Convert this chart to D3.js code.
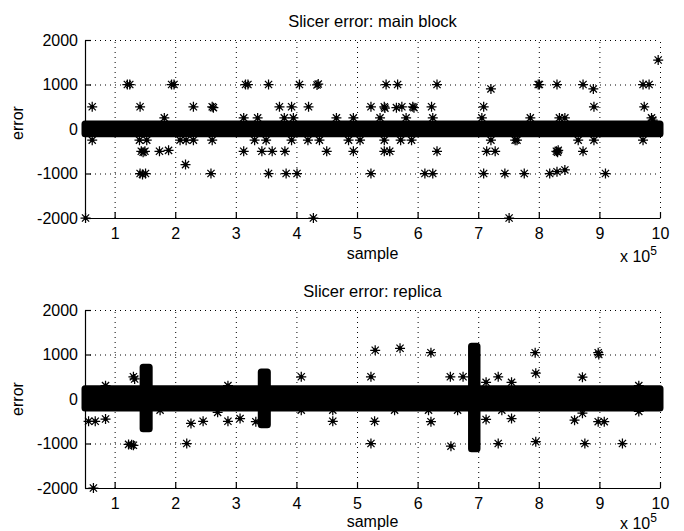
<!DOCTYPE html>
<html><head><meta charset="utf-8">
<script src="https://cdn.jsdelivr.net/npm/d3@7"></script>
<style>
html,body{margin:0;padding:0;background:#fff;}
text{font-family:"Liberation Sans",Arial,Helvetica,sans-serif;fill:#000;}
</style></head>
<body><svg id="c" width="684" height="531"></svg>
<script>
// ---------- data (x in units of 1e5 samples, y = error) ----------
const xTicks = [1,2,3,4,5,6,7,8,9,10];
const yTicks = [-2000,-1000,0,1000,2000];
const xDomain = [0.511, 10];
const yDomain = [-2000, 2000];

// dense band envelope (inner edge), main block
const mainBandX  = [0.511, 10];
const mainBandHi = [110, 110];
const mainBandLo = [-105, -105];

// dense band envelope, replica (with the three bursts)
const repBandX  = [0.511, 1.47, 1.47, 1.57, 1.57, 3.42, 3.42, 3.52, 3.52, 6.89, 6.89, 6.98, 6.98, 10];
const repBandHi = [230, 230, 714, 714, 230, 230, 608, 608, 230, 230, 1187, 1187, 230, 230];
const repBandLo = [-200, -200, -669, -669, -200, -200, -579, -579, -200, -200, -1119, -1119, -200, -200];

// isolated outliers, main block
const mainOutX = [0.63,0.63,0.52,1.21,1.25,1.94,1.98,1.42,2.30,2.61,2.63,1.82,
  1.41,1.53,1.44,1.50,1.47,1.74,1.89,2.08,2.18,2.30,2.17,2.61,1.42,1.51,1.46,2.59,
  3.16,3.20,3.54,4.05,4.34,4.36,3.72,3.92,4.20,5.23,3.13,3.36,3.80,3.95,4.66,4.94,
  3.31,3.50,3.92,4.19,4.38,4.86,5.05,3.13,3.43,3.60,3.81,4.50,4.94,3.54,3.83,4.01,5.23,4.28,
  5.48,5.67,6.32,7.21,5.45,5.46,5.65,5.74,5.92,5.94,6.23,7.09,5.38,5.81,6.25,7.06,
  5.45,5.72,5.90,7.21,7.61,5.45,5.54,6.32,7.14,7.28,6.12,6.25,7.09,7.44,7.51,
  9.97,7.99,8.01,8.30,8.73,8.90,9.72,9.82,8.91,9.74,7.86,8.34,8.43,9.86,9.88,
  7.64,8.65,8.91,9.72,8.29,8.31,8.32,8.73,7.76,8.18,8.30,8.43,9.10];
const mainOutY = [500,-250,-2000,1000,1000,1000,1000,500,500,500,480,250,
  -250,-250,-500,-500,-520,-500,-480,-250,-250,-250,-800,-250,-1000,-1000,-1020,-1000,
  1000,1000,1000,1000,990,1010,500,500,500,500,250,250,250,250,250,250,
  -250,-250,-250,-250,-250,-250,-250,-500,-500,-500,-500,-500,-500,-1000,-1000,-1000,-1000,-2000,
  1000,1000,1000,900,500,470,480,500,500,480,500,500,250,250,250,250,
  -250,-250,-250,-250,-250,-500,-500,-500,-500,-500,-1000,-1000,-1000,-1000,-2000,
  1550,1000,1000,1000,1000,900,1000,1000,500,500,250,250,250,250,200,
  -250,-250,-250,-250,-500,-520,-480,-500,-1000,-1000,-960,-920,-1000];

// isolated outliers, replica
const repOutX = [1.31,1.33,0.85,0.57,0.68,0.85,1.23,1.31,1.28,2.19,1.75,2.26,2.46,2.70,2.87,2.87,0.65,
  3.07,3.33,4.08,4.08,4.60,4.60,5.23,5.30,5.23,5.29,
  5.71,6.22,6.54,6.75,7.13,7.33,7.55,5.62,6.18,6.22,6.66,7.13,7.55,7.39,6.55,7.33,
  7.94,8.98,8.99,7.95,8.72,9.65,8.72,8.59,8.98,9.08,7.95,8.76,9.38,9.65];
const repOutY = [500,450,300,-500,-500,-450,-1020,-1040,-1030,-1000,-250,-550,-500,-300,-500,300,-2000,
  -440,-510,500,-250,-250,-500,500,1095,-1000,-500,
  1140,1040,500,500,375,500,375,-250,-250,-510,-250,-460,-440,-250,-1060,-1000,
  1040,1040,1000,580,490,300,-320,-475,-510,-510,-960,-1000,-1000,-280];

const panels = [
  {title:"Slicer error: main block", top:40, bandX:mainBandX, hi:mainBandHi, lo:mainBandLo, ox:mainOutX, oy:mainOutY, ylabY:123, sampleY:259, expY:262},
  {title:"Slicer error: replica", top:310, bandX:repBandX, hi:repBandHi, lo:repBandLo, ox:repOutX, oy:repOutY, ylabY:399, sampleY:527, expY:529}
];

// ---------- drawing ----------
const svg = d3.select("#c");
const L = 85, R = 660, H = 178;
const starPath = "M-5,0H5M0,-5V5M-3.6,-3.6L3.6,3.6M-3.6,3.6L3.6,-3.6";

panels.forEach(p => {
  const x = d3.scaleLinear().domain(xDomain).range([L, R]);
  const y = d3.scaleLinear().domain(yDomain).range([p.top + H, p.top]);
  const g = svg.append("g");

  // grid (dotted)
  const grid = g.append("g").attr("stroke", "#000").attr("stroke-width", 1)
    .attr("stroke-dasharray", "1,4").attr("fill", "none");
  xTicks.forEach(t => grid.append("line").attr("x1", x(t)+0.5).attr("x2", x(t)+0.5)
    .attr("y1", y(yDomain[0])).attr("y2", y(yDomain[1])));
  yTicks.forEach(t => grid.append("line").attr("y1", y(t)+0.5).attr("y2", y(t)+0.5)
    .attr("x1", x(xDomain[0])).attr("x2", x(xDomain[1])));

  // dense band
  const bandData = p.bandX.map((v, i) => ({x: v, hi: p.hi[i], lo: p.lo[i]}));
  g.append("path").datum(bandData)
    .attr("d", d3.area().x(d => x(d.x)).y0(d => y(d.lo)).y1(d => y(d.hi)))
    .attr("fill", "#000").attr("stroke", "#000").attr("stroke-width", 7)
    .attr("stroke-linejoin", "round");

  // outlier stars
  const pts = p.ox.map((v, i) => [v, p.oy[i]]);
  const sg = g.append("g");
  sg.selectAll("path").data(pts).join("path")
    .attr("transform", d => `translate(${x(d[0])},${y(d[1])})`)
    .attr("d", starPath).attr("stroke", "#000").attr("stroke-width", 1.25).attr("fill", "none");
  sg.selectAll("circle").data(pts).join("circle")
    .attr("cx", d => x(d[0])).attr("cy", d => y(d[1])).attr("r", 2.1).attr("fill", "#000");

  // axes
  const xa = g.append("g").attr("transform", `translate(0,${p.top + H})`)
    .call(d3.axisBottom(x).tickValues(xTicks).tickFormat(d3.format("d"))
      .tickSizeInner(-6).tickSizeOuter(0).tickPadding(10));
  const ya = g.append("g").attr("transform", `translate(${L},0)`)
    .call(d3.axisLeft(y).tickValues(yTicks).tickFormat(d3.format("d"))
      .tickSizeInner(-6).tickSizeOuter(0).tickPadding(7));
  [xa, ya].forEach(a => {
    a.selectAll("text").attr("font-size", 16).attr("font-family", '"Liberation Sans",Arial,sans-serif');
    a.selectAll("line,path").attr("stroke", "#000").attr("stroke-width", 1.2);
  });
  ya.selectAll("text").text(d => d < 0 ? "-" + Math.abs(d) : d);

  // labels
  g.append("text").attr("x", (L + R) / 2).attr("y", p.top - 13).attr("text-anchor", "middle")
    .attr("font-size", 16.5).text(p.title);
  g.append("text").attr("x", (L + R) / 2).attr("y", p.sampleY).attr("text-anchor", "middle")
    .attr("font-size", 16).text("sample");
  g.append("text").attr("transform", `translate(23,${p.ylabY}) rotate(-90)`)
    .attr("text-anchor", "middle").attr("font-size", 16).text("error");
  const m = g.append("text").attr("x", 620).attr("y", p.expY).attr("font-size", 16);
  m.append("tspan").text("x 10");
  m.append("tspan").attr("dy", -7).attr("font-size", 12).text("5");
});
</script></body></html>
